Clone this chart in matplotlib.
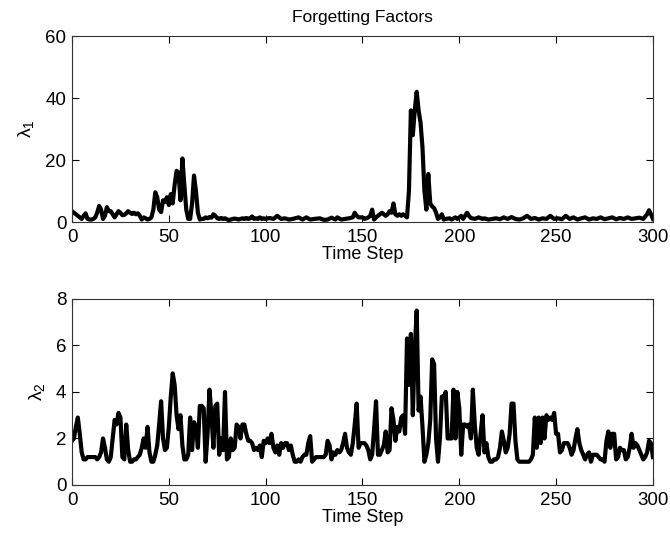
import matplotlib
matplotlib.use('Agg')
import matplotlib.pyplot as plt
import numpy as np

plt.rcParams['font.family'] = ['Liberation Sans', 'DejaVu Sans']
plt.rcParams['mathtext.fontset'] = 'custom'
plt.rcParams['mathtext.rm'] = 'Liberation Sans'

# lambda_1 : vertices (step, value)
t1 = [0, 1, 2, 3, 4, 5, 6, 7, 8, 9, 10, 11, 12, 13, 14, 15, 16, 17, 18, 19,
      20, 21, 22, 23, 24, 25, 26, 27, 28, 29, 30, 31, 32, 33, 34, 35, 36, 37, 38, 39,
      40, 41, 42, 43, 44, 45, 46, 47, 48, 49, 50, 51, 52, 53, 54, 55, 56, 57, 58, 59,
      60, 61, 62, 63, 64, 65, 66, 67, 68, 69, 70, 71, 72, 73, 74, 75, 76, 77, 78, 79,
      80, 81, 82, 83, 84, 85, 86, 87, 88, 89, 90, 91, 92, 93, 94, 95, 96, 97, 98, 99,
      100, 102, 104, 106, 108, 110, 112, 114, 117, 119, 121, 123, 125, 128, 130, 132,
      134, 136, 137, 139, 141, 143, 145, 146, 147, 148, 150,
      151, 152, 153, 154, 155, 156, 157, 158, 159, 160, 161, 162, 163, 164, 165, 166,
      167, 168, 169, 170, 171, 172, 173, 174, 175, 176, 177, 178, 179, 180, 181, 182,
      183, 184, 185, 186, 187, 188, 189, 190, 191, 192, 193, 195, 196, 198, 199, 201,
      202, 204, 205, 206, 208, 210, 212, 213, 215, 217, 219, 221, 223, 225, 227, 229,
      231, 233, 235, 237, 239, 241, 243, 245, 247, 249, 251, 253, 255, 257, 259, 261,
      263, 265, 267, 269, 271, 273, 275, 277, 279, 281, 283, 285, 287, 289, 291, 293,
      295, 297, 298, 299, 300]
lam1 = [3.5, 3.0, 2.5, 2.0, 1.5, 1.0, 2.0, 2.8, 1.0, 0.8, 0.8, 1.0, 1.5, 3.0, 5.2, 4.0, 1.0, 2.0, 4.8, 3.5,
        3.5, 2.5, 1.5, 2.5, 3.5, 3.0, 2.2, 2.3, 2.8, 3.5, 3.0, 2.6, 3.0, 2.5, 2.8, 2.0, 0.8, 1.5, 1.2, 0.8,
        1.0, 1.5, 4.0, 9.6, 8.0, 4.0, 3.2, 7.0, 6.5, 8.0, 5.5, 9.0, 6.0, 12.0, 16.5, 16.0, 7.0, 20.5, 12.0, 4.0,
        1.0, 1.0, 6.0, 15.0, 10.0, 3.0, 0.8, 1.0, 1.0, 1.5, 1.2, 1.6, 1.4, 2.5, 2.0, 1.2, 1.0, 1.3, 1.0, 1.2,
        0.9, 0.6, 0.8, 1.0, 1.1, 1.0, 0.8, 1.0, 1.2, 1.0, 1.3, 1.0, 1.2, 1.8, 1.0, 1.2, 1.0, 1.5, 1.0, 1.2,
        1.0, 1.3, 1.0, 2.0, 1.0, 1.2, 0.8, 1.0, 1.5, 0.8, 1.5, 0.8, 1.0, 1.2, 0.7, 0.8,
        1.4, 0.8, 1.5, 0.8, 1.0, 1.2, 1.5, 3.0, 2.0, 1.5, 1.5,
        1.0, 1.2, 1.5, 2.0, 4.0, 0.8, 1.5, 2.0, 2.5, 3.0, 2.5, 2.0, 2.5, 3.5, 3.0, 6.0,
        2.5, 2.0, 2.5, 2.0, 2.5, 2.0, 1.5, 10.0, 36.0, 28.0, 36.0, 42.0, 36.0, 32.0, 24.0, 10.0,
        4.0, 15.5, 6.0, 5.0, 4.5, 3.0, 1.0, 1.5, 2.5, 0.8, 1.0, 1.2, 0.8, 1.5, 1.0, 2.0,
        1.0, 3.0, 2.0, 1.3, 1.0, 1.5, 1.0, 1.2, 0.8, 1.0, 1.2, 0.9, 1.5, 1.0, 1.6, 1.0,
        0.8, 1.2, 2.0, 1.0, 1.3, 0.8, 1.2, 1.0, 2.0, 1.0, 1.2, 0.9, 2.0, 1.0, 1.5, 0.8,
        1.2, 1.5, 0.8, 1.2, 1.0, 1.5, 0.9, 1.2, 1.5, 0.9, 1.3, 1.0, 1.5, 1.0, 1.2, 1.4,
        1.0, 2.5, 3.8, 2.5, 1.0]

# lambda_2 : one value per time step 0..300
lam2 = [1.9, 2.0, 2.5, 2.9, 2.2, 1.4, 1.1, 1.1, 1.2, 1.2, 1.2, 1.2, 1.2, 1.1, 1.2, 1.4, 2.0, 1.6, 1.1, 1.0,
        1.2, 2.0, 2.8, 2.6, 3.1, 2.9, 1.2, 1.1, 2.6, 1.5, 1.0, 1.0, 1.1, 1.1, 1.2, 1.3, 1.6, 2.0, 1.6, 2.5,
        1.4, 1.0, 1.0, 1.3, 1.7, 2.6, 3.6, 2.0, 1.5, 1.6, 2.5, 3.8, 4.8, 4.3, 3.0, 2.4, 3.0, 1.7, 1.1, 1.1,
        1.3, 2.9, 1.5, 2.7, 2.5, 1.6, 3.4, 3.4, 3.3, 1.0, 2.2, 4.1, 3.0, 1.6, 3.4, 3.5, 1.3, 2.0, 1.5, 4.0,
        1.1, 1.2, 2.0, 1.5, 1.6, 2.6, 2.5, 2.0, 2.6, 2.6, 2.2, 1.9, 1.9, 1.8, 1.5, 1.6, 1.5, 1.7, 1.2, 1.9,
        1.8, 2.0, 1.8, 2.2, 1.6, 1.4, 1.7, 1.3, 1.8, 1.6, 1.8, 1.8, 1.5, 1.7, 1.3, 1.0, 1.0, 1.1, 1.0, 1.2,
        1.3, 1.3, 1.8, 2.1, 1.0, 1.1, 1.2, 1.2, 1.2, 1.2, 1.2, 1.3, 1.9, 1.7, 1.1, 1.4, 1.3, 1.5, 1.4, 1.5,
        1.8, 2.2, 1.6, 1.4, 1.3, 1.8, 2.6, 3.5, 1.6, 1.8, 1.8, 1.8, 1.7, 1.5, 1.1, 1.3, 2.4, 3.6, 1.3, 1.3,
        1.5, 1.7, 2.3, 1.4, 1.5, 3.3, 2.8, 1.9, 2.5, 2.3, 2.9, 3.0, 2.2, 6.3, 4.3, 6.5, 3.0, 5.8, 7.5, 3.2,
        3.8, 2.5, 1.0, 1.3, 1.8, 2.8, 5.4, 5.2, 2.0, 1.0, 2.0, 3.8, 3.8, 4.0, 2.0, 2.0, 2.0, 4.1, 2.0, 4.0,
        3.3, 1.3, 2.6, 2.6, 2.5, 2.6, 2.0, 4.1, 2.6, 1.6, 1.3, 2.2, 3.0, 1.4, 1.8, 1.2, 1.0, 1.0, 1.1, 1.1,
        1.2, 1.6, 2.3, 1.9, 1.4, 1.6, 2.2, 3.5, 3.5, 1.9, 1.1, 1.0, 1.0, 1.0, 1.0, 1.0, 1.0, 1.1, 1.3, 2.9,
        1.6, 2.9, 1.8, 2.9, 2.0, 3.0, 2.8, 2.9, 2.8, 3.1, 2.2, 2.2, 1.4, 1.5, 1.8, 1.8, 1.8, 1.6, 1.3, 1.5,
        2.0, 2.4, 1.8, 1.5, 1.3, 1.1, 1.3, 1.4, 1.0, 1.3, 1.3, 1.3, 1.2, 1.1, 1.1, 1.0, 1.9, 2.3, 1.6, 2.2,
        2.2, 1.1, 1.2, 1.6, 1.5, 1.5, 1.1, 1.2, 1.6, 2.2, 1.6, 1.8, 1.7, 1.5, 1.3, 1.1, 1.2, 1.4, 1.9, 1.8,
        1.2]
t2 = np.arange(len(lam2))

fig = plt.figure(figsize=(6.7, 5.35), dpi=100)
ax1 = fig.add_axes([0.1075, 0.585, 0.867, 0.3477])
ax2 = fig.add_axes([0.1075, 0.0935, 0.867, 0.3477])

ax1.plot(t1, lam1, color='black', linewidth=3)
ax2.plot(t2, lam2, color='black', linewidth=3)

ax1.set_ylim(0, 60)
ax1.set_yticks([0, 20, 40, 60])
ax2.set_ylim(0, 8)
ax2.set_yticks([0, 2, 4, 6, 8])
for ax in (ax1, ax2):
    ax.set_xlim(0, 300)
    ax.set_xticks([0, 50, 100, 150, 200, 250, 300])
    ax.tick_params(direction='in', top=True, right=True, labelsize=13.5, length=5)
    ax.tick_params(axis='x', pad=5)
    ax.tick_params(axis='y', pad=4)
    ax.set_xlabel('Time Step', fontsize=13, labelpad=0)
    for s in ax.spines.values():
        s.set_linewidth(0.8)
        s.set_color('#333333')

ax1.set_ylabel('λ$_1$', fontsize=14, labelpad=6)
ax2.set_ylabel('λ$_2$', fontsize=14, labelpad=6)
ax1.set_title('Forgetting Factors', fontsize=12.5, pad=10)

fig.savefig('out.png', dpi=100)
